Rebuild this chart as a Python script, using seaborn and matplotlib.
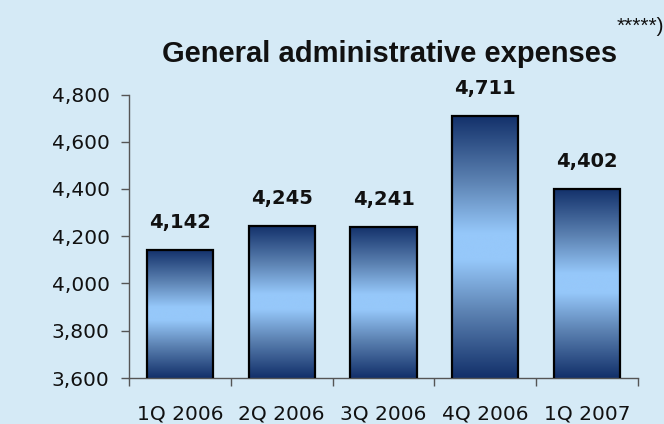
import numpy as np
import pandas as pd
import matplotlib
matplotlib.use("Agg")
import matplotlib.pyplot as plt
from matplotlib.colors import LinearSegmentedColormap
from matplotlib.ticker import FuncFormatter, FixedLocator
import seaborn as sns

categories = ["1Q 2006", "2Q 2006", "3Q 2006", "4Q 2006", "1Q 2007"]
values = [4142, 4245, 4241, 4711, 4402]
title = "General administrative expenses"
note = "*****)"

sns.set_theme(style="white")
plt.rcParams["font.family"] = ["DejaVu Sans"]

bg = "#D5EAF6"
fig = plt.figure(figsize=(6.64, 4.24), dpi=100, facecolor=bg)
ax = fig.add_axes([129/664, 1-378/424, (638-129)/664, (378-94.5)/424])
ax.set_facecolor(bg)

df = pd.DataFrame({"cat": categories, "val": values})
sns.barplot(data=df, x="cat", y="val", ax=ax, width=0.65, color="#99CCFF",
            edgecolor="black", linewidth=1.6, zorder=2)

ax.set_ylim(3600, 4800)
ax.set_xlim(-0.5, len(categories) - 0.5)

cmap = LinearSegmentedColormap.from_list(
    "g", [(0.0, "#12306A"), (0.25, "#5C82B2"), (0.45, "#96C8FA"), (0.55, "#96C8FA"),
          (0.75, "#5C82B2"), (1.0, "#12306A")])
grad = np.linspace(0, 1, 256).reshape(-1, 1)
for p in ax.patches:
    x0, y0 = p.get_x(), p.get_y()
    w, h = p.get_width(), p.get_height()
    y0 = max(y0, 3600)
    top = p.get_y() + p.get_height()
    im = ax.imshow(grad, cmap=cmap, aspect="auto", extent=[x0, x0 + w, y0, top],
                   origin="lower", zorder=2.5, interpolation="bicubic")
    im.set_clip_path(p)
    p.set_facecolor("none")
    p.set_zorder(3)
ax.set_xlim(-0.5, len(categories) - 0.5)
ax.set_ylim(3600, 4800)

for i, v in enumerate(values):
    ax.annotate(f"{v:,}", xy=(i, v), xytext=(0, 22 * 72 / 100), textcoords="offset points",
                ha="center", va="baseline", fontsize=14, fontweight="bold", color="#111111")

ax.set_yticks(np.arange(3600, 4801, 200))
ax.yaxis.set_major_formatter(FuncFormatter(lambda v, _: f"{int(v):,}"))
ax.set_xlabel("")
ax.set_ylabel("")
ax.tick_params(axis="y", direction="out", length=6, width=1, color="#555555",
               labelsize=14.5, pad=8, left=True, labelcolor="#111111")
ax.tick_params(axis="x", which="major", length=0, labelsize=14.5, pad=19, labelcolor="#111111")
ax.xaxis.set_minor_locator(FixedLocator(np.arange(-0.5, len(categories), 1)))
ax.tick_params(axis="x", which="minor", direction="out", length=6, width=1,
               color="#555555", bottom=True)

for s in ["top", "right"]:
    ax.spines[s].set_visible(False)
for s in ["left", "bottom"]:
    ax.spines[s].set_color("#555555")
    ax.spines[s].set_linewidth(1)

fig.text(390/664, 1-62/424, title, ha="center", va="baseline", fontsize=21, fontweight="bold",
         color="#111111", family=["Liberation Sans", "DejaVu Sans"])
fig.text(1.0, 1-27/424, note, ha="right", va="center", fontsize=15, color="#111111",
         family=["Liberation Sans", "DejaVu Sans"])

fig.savefig("out.png", dpi=100, facecolor=bg)
